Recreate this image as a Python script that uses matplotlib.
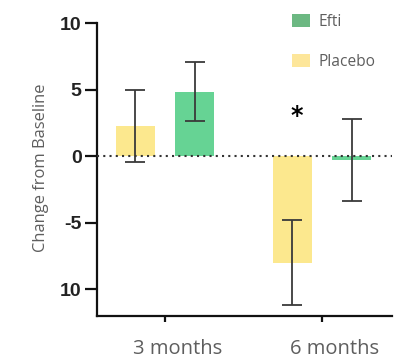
import matplotlib
matplotlib.use("Agg")
import matplotlib.pyplot as plt
import numpy as np
from matplotlib.patches import Patch

# Data
timepoints = ["3 months", "6 months"]
placebo_mean = [2.25, -8.0]
placebo_err = [2.7, 3.2]
efti_mean = [4.85, -0.3]
efti_err = [2.2, 3.1]
ytick_values = [10, 5, 0, -5, -10]
ytick_labels = ["10", "5", "0", "-5", "10"]

PLACEBO = "#fce88e"
EFTI = "#66d394"
EFTI_LEG = "#6cb882"
PLACEBO_LEG = "#fde69a"
GRAY = "#5e5e5e"
FONT = "Open Sans"

fig = plt.figure(figsize=(4.05, 3.6), dpi=100)
ax = fig.add_axes([0.2395, 0.1222, 0.7285, 0.8139])

x = np.arange(len(timepoints))
width = 0.25
off = 0.19

ax.bar(x - off, placebo_mean, width, color=PLACEBO, zorder=2)
ax.bar(x + off, efti_mean, width, color=EFTI, zorder=2)
err_kw = dict(fmt="none", ecolor="#3a3a3a", elinewidth=1.3, capsize=7.2,
              capthick=1.3, zorder=4)
ax.errorbar(x - off, placebo_mean, yerr=placebo_err, **err_kw)
ax.errorbar(x + off, efti_mean, yerr=efti_err, **err_kw)

# Baseline reference
ax.axhline(0, color="#333333", lw=1.5, linestyle=(0, (1, 2)), zorder=3)

ax.set_xlim(-0.433, 1.446)
ax.set_ylim(-12, 10)

for side in ("top", "right"):
    ax.spines[side].set_visible(False)
for side in ("left", "bottom"):
    ax.spines[side].set_linewidth(1.6)
    ax.spines[side].set_color("#111111")

ax.set_yticks(ytick_values)
ax.set_yticklabels(ytick_labels, fontfamily="Liberation Sans",
                   fontweight="bold", fontsize=14, color="#222222")
ax.tick_params(axis="y", length=9, width=1.6, pad=2, color="#111111")
ax.set_xticks(x)
ax.set_xticklabels([])
ax.tick_params(axis="x", length=4.5, width=1.6, color="#111111")

for xi, lab in zip(x, timepoints):
    ax.text(xi + 0.08, -14.45, lab, ha="center", va="center",
            fontfamily=FONT, fontsize=14.5, color=GRAY, clip_on=False)

fig.text(0.102, 0.535, "Change from Baseline", rotation=90, ha="center",
         va="center", fontfamily=FONT, fontsize=11.9, color=GRAY)

ax.text(0.84, 3.0, "*", ha="center", va="center", fontsize=17,
        fontweight="bold", color="black")

handles = [Patch(facecolor=EFTI_LEG, edgecolor="none"),
           Patch(facecolor=PLACEBO_LEG, edgecolor="none")]
leg = ax.legend(handles, ["Efti", "Placebo"], loc="upper left",
                bbox_to_anchor=(0.615, 1.08), frameon=False,
                prop={"family": FONT, "size": 11.2}, labelspacing=1.58,
                handlelength=1.15, handleheight=0.9, handletextpad=0.5)
for t in leg.get_texts():
    t.set_color(GRAY)

fig.savefig("out.png", dpi=100)
